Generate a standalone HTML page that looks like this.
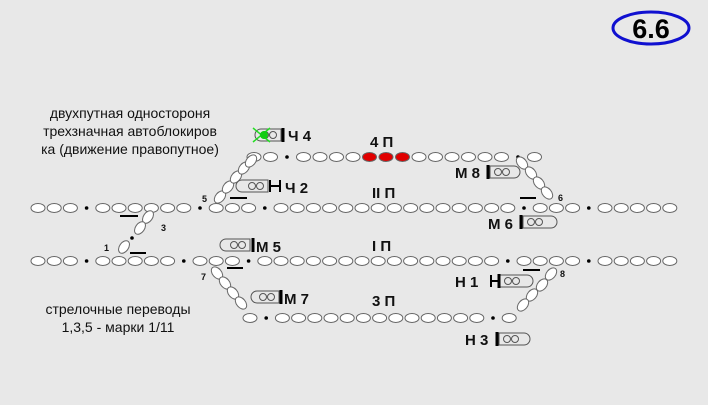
<!DOCTYPE html>
<html><head><meta charset="utf-8"><style>
html,body{margin:0;padding:0;background:#e8e8e8}
svg{display:block}
text{font-family:"Liberation Sans",sans-serif}
</style></head><body>
<svg id="s" width="708" height="405" viewBox="0 0 708 405" xmlns="http://www.w3.org/2000/svg">
<rect width="708" height="405" fill="#e8e8e8"/>
<ellipse cx="651" cy="28" rx="38" ry="16" fill="#e8e8e8" stroke="#1010d0" stroke-width="3"/>
<text x="651" y="38" font-size="27" font-weight="bold" text-anchor="middle">6.6</text>
<g font-size="14" text-anchor="middle" fill="#111">
<text x="130" y="118">двухпутная одностороня</text>
<text x="130" y="136">трехзначная автоблокиров</text>
<text x="130" y="154">ка (движение правопутное)</text>
<text x="118" y="314">стрелочные переводы</text>
<text x="118" y="332">1,3,5 - марки 1/11</text>
</g>
<g font-size="15" font-weight="bold" fill="#111">
<text x="370" y="147">4 П</text>
<text x="372" y="198">II П</text>
<text x="372" y="251">I П</text>
<text x="372" y="306">3 П</text>
<text x="288" y="141">Ч 4</text>
<text x="285" y="193">Ч 2</text>
<text x="256" y="252">М 5</text>
<text x="284" y="304">М 7</text>
<text x="455" y="178">М 8</text>
<text x="488" y="229">М 6</text>
<text x="455" y="287">Н 1</text>
<text x="465" y="345">Н 3</text>
</g>
<g font-size="9" font-weight="bold" fill="#111">
<text x="202" y="202">5</text><text x="161" y="231">3</text><text x="104" y="251">1</text>
<text x="201" y="280">7</text><text x="558" y="201">6</text><text x="560" y="277">8</text>
</g>
<g id="g" stroke="#666" stroke-width="1" fill="#fff"></g>
</svg>
<script>
var g=document.getElementById('g'),NS='http://www.w3.org/2000/svg';
function el(t,a){var e=document.createElementNS(NS,t);for(var k in a)e.setAttribute(k,a[k]);g.appendChild(e);return e;}
function ov(x,y,r,f){el('ellipse',{cx:x,cy:y,rx:7,ry:4.5,fill:f||'#fff',transform:'rotate('+(r||0)+' '+x+' '+y+')'});}
function dot(x,y){el('circle',{cx:x,cy:y,r:1.8,fill:'#000',stroke:'none'});}
function row(p,x0,y,st,red){for(var i=0;i<p.length;i++){var x=x0+i*st;if(p[i]=='o')ov(x,y,0,red&&red.indexOf(i)>=0?'#e00000':'#fff');else dot(x,y);}}
row("ooo.oooooo.ooo.ooooooooooooooo.ooo.ooooo",38,208,16.2);
row("ooo.ooooo.ooo.ooooooooooooooo.oooo.ooooo",38,261,16.2);
row("oo.ooooooooooooo.o",254,157,16.5,[7,8,9]);
row("o.ooooooooooooo.o",250,318,16.2);
function diag(pts,r){pts.forEach(function(p){ov(p[0],p[1],r);});}
diag([[220,197],[228,187],[236,177],[244,168],[251,161]],-50);
diag([[148,217],[140,228]],-55);dot(132,238);diag([[124,247]],-55);
diag([[217,273],[225,283],[233,293],[241,303]],50);
diag([[522,163],[531,173],[539,183],[547,193]],50);
diag([[551,274],[542,285],[532,295],[523,305]],-50);
function ln(x1,y1,x2,y2,w,c){el('line',{x1:x1,y1:y1,x2:x2,y2:y2,'stroke-width':w||2,stroke:c||'#000'});}
[[120,216,138],[130,253,146],[230,198,247],[227,268,243],[520,198,536],[523,270,540]].forEach(function(l){ln(l[0],l[1],l[2],l[1],2);});
function sig(fx,y,dir,w){var h=6,r=6;var x2=fx+dir*w;
 var d='M'+fx+' '+(y-h)+' L'+(x2-dir*r)+' '+(y-h)+' A'+r+' '+r+' 0 0 '+(dir>0?1:0)+' '+(x2-dir*r)+' '+(y+h)+' L'+fx+' '+(y+h)+' Z';
 el('path',{d:d,fill:'none',stroke:'#555'});
 el('circle',{cx:fx+dir*8,cy:y,r:3.5,fill:'none',stroke:'#555'});el('circle',{cx:fx+dir*16,cy:y,r:3.5,fill:'none',stroke:'#555'});}
sig(281,135,-1,26);ln(283,128,283,142,3);
el('line',{x1:253,y1:128,x2:270,y2:142,stroke:'#2d2','stroke-width':1.5});el('line',{x1:253,y1:142,x2:270,y2:128,stroke:'#2d2','stroke-width':1.5});
el('circle',{cx:264,cy:135,r:4,fill:'#1c1',stroke:'none'});
sig(268,186,-1,32);ln(269,186,280,186,2);ln(270,180,270,192,2);ln(280,180,280,192,2);
sig(250,245,-1,30);ln(253,238,253,252,3);
sig(279,297,-1,28);ln(281,290,281,304,3);
sig(490,172,1,30);ln(488,165,488,179,3);
sig(523,222,1,34);ln(521,215,521,229,3);
sig(500,281,1,33);ln(490,281,500,281,2);ln(491,275,491,287,2);ln(499,274,499,288,3);
sig(499,339,1,31);ln(497,332,497,346,3);
</script>
</body></html>
